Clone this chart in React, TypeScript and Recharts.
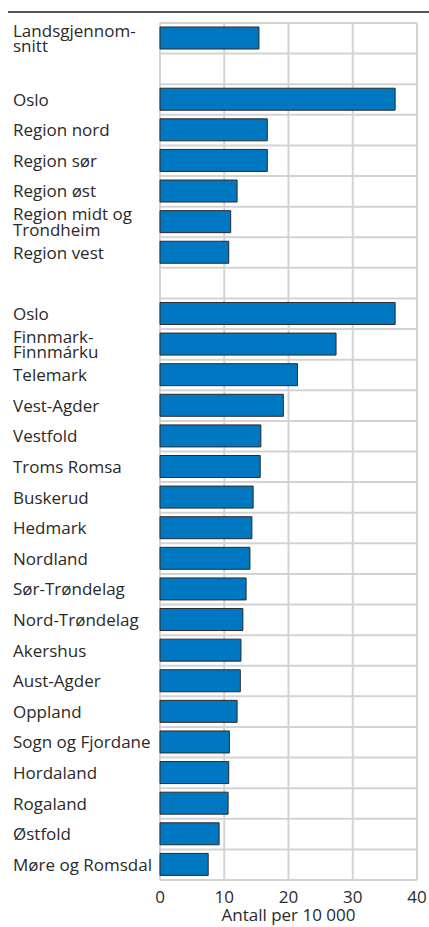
import React from "react";
import { BarChart, Bar, XAxis, YAxis, CartesianGrid } from "recharts";

const categories: string[] = [
  "Landsgjennom-\nsnitt",
  "",
  "Oslo",
  "Region nord",
  "Region sør",
  "Region øst",
  "Region midt og\nTrondheim",
  "Region vest",
  "",
  "Oslo",
  "Finnmark-\nFinnmárku",
  "Telemark",
  "Vest-Agder",
  "Vestfold",
  "Troms Romsa",
  "Buskerud",
  "Hedmark",
  "Nordland",
  "Sør-Trøndelag",
  "Nord-Trøndelag",
  "Akershus",
  "Aust-Agder",
  "Oppland",
  "Sogn og Fjordane",
  "Hordaland",
  "Rogaland",
  "Østfold",
  "Møre og Romsdal",
];

const values: (number | null)[] = [
  15.4, null, 36.6, 16.7, 16.7, 12.0, 11.0, 10.7, null, 36.6, 27.4, 21.4, 19.2,
  15.7, 15.6, 14.5, 14.3, 14.0, 13.4, 12.9, 12.6, 12.5, 12.0, 10.8, 10.7, 10.6,
  9.2, 7.5,
];

const xTicks: number[] = [0, 10, 20, 30, 40];
const xLabel = "Antall per 10 000";

const data = categories.map((c, i) => ({ key: "k" + i, label: c, value: values[i] }));

const FONT = "'Open Sans', 'Noto Sans', sans-serif";
const TEXT = "#2a2a2a";

const YTick = (props: any) => {
  const { y, payload } = props;
  const idx = parseInt(String(payload.value).slice(1), 10);
  const label = categories[idx] || "";
  if (!label) return <g />;
  const lines = label.split("\n");
  const lh = 15.5;
  const startY = y - ((lines.length - 1) * lh) / 2;
  return (
    <g>
      {lines.map((l, i) => (
        <text
          key={i}
          x={13}
          y={startY + i * lh}
          dy="0.36em"
          textAnchor="start"
          fill={TEXT}
          fontFamily={FONT}
          fontSize={17}
        >
          {l}
        </text>
      ))}
    </g>
  );
};

const N = categories.length;

export default function App() {
  return (
    <div style={{ position: "absolute", left: 0, top: 0, width: 429, height: 927, background: "#fff" }}>
      <div style={{ position: "absolute", left: 8, top: 11, width: 421, height: 2, background: "#555" }} />
      <BarChart
        width={429}
        height={927}
        data={data}
        layout="vertical"
        margin={{ top: 23, right: 12, left: 0, bottom: 0 }}
        barSize={22}
      >
        <CartesianGrid
          stroke="#d3d3d3"
          strokeWidth={2}
          horizontalCoordinatesGenerator={({ offset }: any) => {
            const arr: number[] = [];
            for (let i = 0; i <= N; i++) arr.push(offset.top + (i * offset.height) / N);
            return arr;
          }}
        />
        <XAxis
          type="number"
          domain={[0, 40]}
          ticks={xTicks}
          axisLine={false}
          tickLine={false}
          height={47}
          tick={{ fill: TEXT, fontFamily: FONT, fontSize: 17 }}
          tickMargin={5}
          interval={0}
          label={{ value: xLabel, position: "insideBottom", offset: 6, fill: TEXT, fontFamily: FONT, fontSize: 17 }}
        />
        <YAxis
          type="category"
          dataKey="key"
          width={160}
          axisLine={false}
          tickLine={false}
          interval={0}
          tick={<YTick />}
        />
        <Bar dataKey="value" fill="#0078c1" stroke="#2b2b2b" strokeWidth={1} isAnimationActive={false} />
      </BarChart>
    </div>
  );
}
